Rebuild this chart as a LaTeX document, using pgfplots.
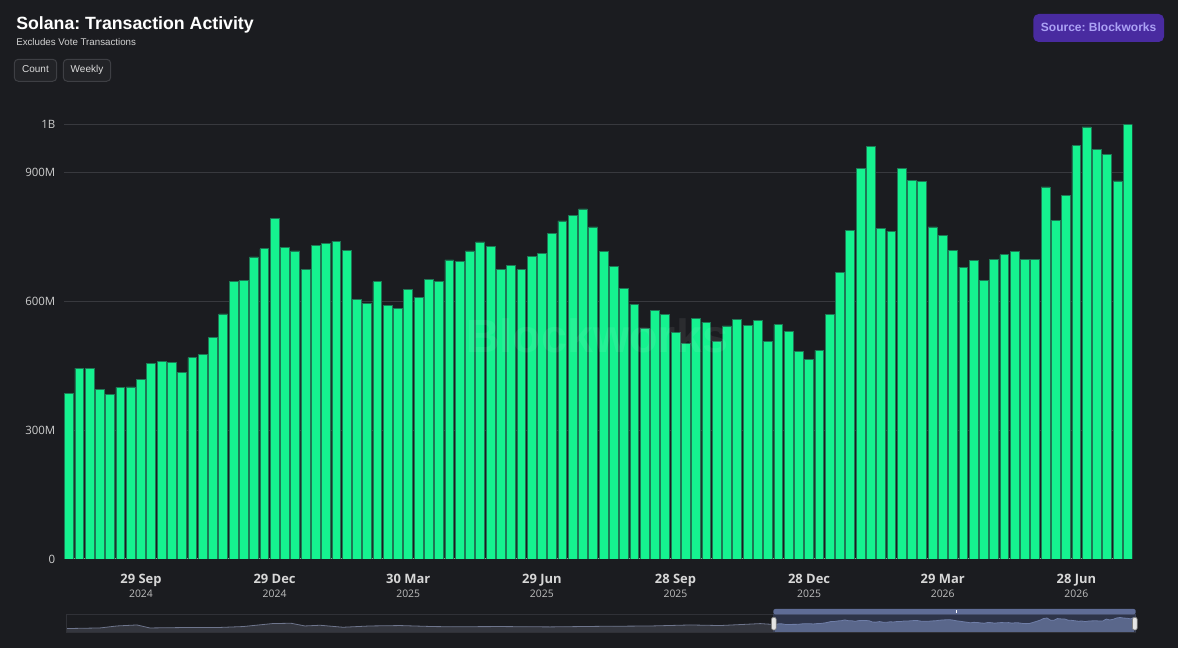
\documentclass[border=0pt]{standalone}
\usepackage{pgfplots}
\usepackage{pgfplotstable}
\pgfplotsset{compat=1.18}
\usepackage{fontspec}
\setmainfont{Liberation Sans}
\newfontfamily\osans{Open Sans}
\frenchspacing

\definecolor{bgc}{RGB}{27,28,32}
\definecolor{barc}{RGB}{21,242,143}
\definecolor{barline}{RGB}{30,120,85}
\definecolor{gridc}{RGB}{56,57,62}
\definecolor{axisc}{RGB}{150,150,150}
\definecolor{ylab}{RGB}{205,205,205}
\definecolor{xlab}{RGB}{215,215,215}
\definecolor{yearc}{RGB}{190,190,190}
\definecolor{subc}{RGB}{210,210,210}
\definecolor{btnfill}{RGB}{34,35,39}
\definecolor{btnborder}{RGB}{62,63,68}
\definecolor{btntext}{RGB}{220,220,220}
\definecolor{srcfill}{RGB}{73,43,160}
\definecolor{srctext}{RGB}{172,162,245}
\definecolor{navborder}{RGB}{48,49,55}
\definecolor{navline}{RGB}{110,117,140}
\definecolor{navfill}{RGB}{52,54,62}
\definecolor{navline2}{RGB}{135,150,190}
\definecolor{navfill2}{RGB}{100,112,142}
\definecolor{navsel}{RGB}{75,90,135}
\definecolor{navtop}{RGB}{95,108,150}

\pgfplotstableread{
x y
0 386
1 445
2 445
3 396
4 384
5 400
6 401
7 419
8 455
9 460
10 458
11 435
12 469
13 477
14 516
15 571
16 647
17 649
18 704
19 723
20 793
21 726
22 718
23 674
24 730
25 735
26 740
27 719
28 604
29 596
30 646
31 591
32 584
33 628
34 610
35 652
36 647
37 697
38 694
39 718
40 739
41 729
42 674
43 684
44 674
45 705
46 712
47 758
48 788
49 800
50 816
51 774
52 716
53 681
54 631
55 594
56 538
57 579
58 570
59 528
60 503
61 561
62 552
63 507
64 543
65 559
66 545
67 556
68 508
69 546
70 530
71 483
72 465
73 486
74 570
75 667
76 765
77 911
78 961
79 770
80 764
81 910
82 882
83 880
84 774
85 755
86 719
87 680
88 695
89 649
90 699
91 709
92 716
93 699
94 698
95 867
96 789
97 848
98 963
99 1007
100 954
101 942
102 881
103 1013
}\txdata

\pgfplotstableread{
x y
-203.26 35
-193.6 88
-188.7 263
-183.0 351
-179.3 88
-169.8 123
-160.0 123
-152.6 210
-144.0 474
-138.8 500
-134.8 263
-130.5 325
-123.9 150
-116.1 263
-107.5 298
-98.0 210
-93.2 193
-78.8 210
-64.5 180
-50.1 230
-35.8 260
-24.3 350
-15.7 300
-4.2 470
0 386
}\navold

\newcommand{\xl}[2]{\textbf{#1}\\{\fontsize{7.8}{10}\selectfont\color{yearc}#2}}

\begin{document}
\begin{tikzpicture}
\begin{scope}[x=0.75pt,y=-0.75pt,yshift=486pt]
\fill[bgc] (0,0) rectangle (1178,648);
\node[anchor=base west, inner sep=0, text=white, font=\fontsize{13.3}{16}\selectfont\bfseries] at (16,29.3) {Solana: Transaction Activity};
\node[anchor=base west, inner sep=0, text=subc, font=\fontsize{7.3}{9}\selectfont] at (16,45.7) {Excludes Vote Transactions};
\draw[btnborder, fill=btnfill, rounded corners=3pt, line width=0.75pt] (14.3,59.3) rectangle (56.7,81.3);
\node[anchor=base, inner sep=0, text=btntext, font=\fontsize{7.5}{9}\selectfont] at (35.5,73) {Count};
\draw[btnborder, fill=btnfill, rounded corners=3pt, line width=0.75pt] (63.3,59.3) rectangle (110.7,81.3);
\node[anchor=base, inner sep=0, text=btntext, font=\fontsize{7.5}{9}\selectfont] at (87,73) {Weekly};
\fill[srcfill, rounded corners=4pt] (1033.3,14) rectangle (1164,42);
\node[anchor=base, inner sep=0, text=srctext, font=\fontsize{9}{10}\selectfont\bfseries] at (1098.6,32) {Source: Blockworks};
\end{scope}

\begin{axis}[
  at={(48pt,66.75pt)}, anchor=south west,
  scale only axis, width=801.2pt, height=326pt,
  xmin=-0.486, xmax=103.44, ymin=0, ymax=1013,
  separate axis lines,
  axis x line*=bottom, axis y line*=left,
  y axis line style={draw=none},
  x axis line style={draw=axisc, line width=0.75pt, -},
  ytick={0,300,600,900,1013},
  yticklabels={0,300M,600M,900M,1B},
  ymajorgrids, grid style={draw=gridc, line width=0.75pt},
  major tick length=0pt,
  xtick={7,20,33,46,59,72,85,98},
  xticklabels={{\xl{29 Sep}{2024}},{\xl{29 Dec}{2024}},{\xl{30 Mar}{2025}},{\xl{29 Jun}{2025}},{\xl{28 Sep}{2025}},{\xl{28 Dec}{2025}},{\xl{29 Mar}{2026}},{\xl{28 Jun}{2026}}},
  yticklabel style={font=\osans\fontsize{8.6}{10}\selectfont, text=ylab, xshift=-3pt},
  xticklabel style={font=\osans\fontsize{9.7}{10}\selectfont, text=xlab, align=center, yshift=-8pt},
  ybar, bar width=0.86,
]
\addplot[fill=barc, draw=barline, line width=0.5pt] table[x=x,y=y]{\txdata};
\end{axis}

\begin{scope}[x=0.75pt,y=-0.75pt,yshift=486pt]
\node[text=white, opacity=0.07, font=\fontsize{35}{40}\selectfont\bfseries] at (597,336) {Blockworks};
\end{scope}

\begin{axis}[
  at={(49.7pt,11.8pt)}, anchor=south west,
  scale only axis, width=802.05pt, height=13.5pt,
  xmin=-203.26, xmax=103.44, ymin=-290, ymax=1290,
  hide axis, clip=true,
]
\fill[navfill] (axis cs:-203.26,-290) rectangle (axis cs:0,0);
\fill[navfill2] (axis cs:0,-290) rectangle (axis cs:103,0);
\addplot[fill=navfill, draw=none] table[x=x,y=y]{\navold} \closedcycle;
\addplot[fill=navfill2, draw=none] table[x=x,y=y]{\txdata} \closedcycle;
\addplot[draw=navline, line width=0.6pt] table[x=x,y=y]{\navold};
\addplot[draw=navline2, line width=0.6pt] table[x=x,y=y]{\txdata};
\end{axis}

\begin{scope}[x=0.75pt,y=-0.75pt,yshift=486pt]
\draw[navborder, line width=0.75pt] (66.3,614.3) rectangle (1135.7,632.3);
\fill[navsel, opacity=0.4] (773.3,614.3) rectangle (1135.7,632.3);
\fill[navtop, rounded corners=1.5pt] (773.3,609) rectangle (1135.7,614.3);
\draw[white, line width=0.75pt] (956,610.5) -- (956,613);
\draw[fill=white!90!black, draw=gray, line width=0.5pt, rounded corners=1.5pt] (771.5,617.3) rectangle (776.2,630);
\draw[fill=white!90!black, draw=gray, line width=0.5pt, rounded corners=1.5pt] (1132.5,617.3) rectangle (1137.2,630);
\end{scope}
\pgfresetboundingbox
\useasboundingbox (0,0) rectangle (883.5pt,486pt);
\end{tikzpicture}
\end{document}
